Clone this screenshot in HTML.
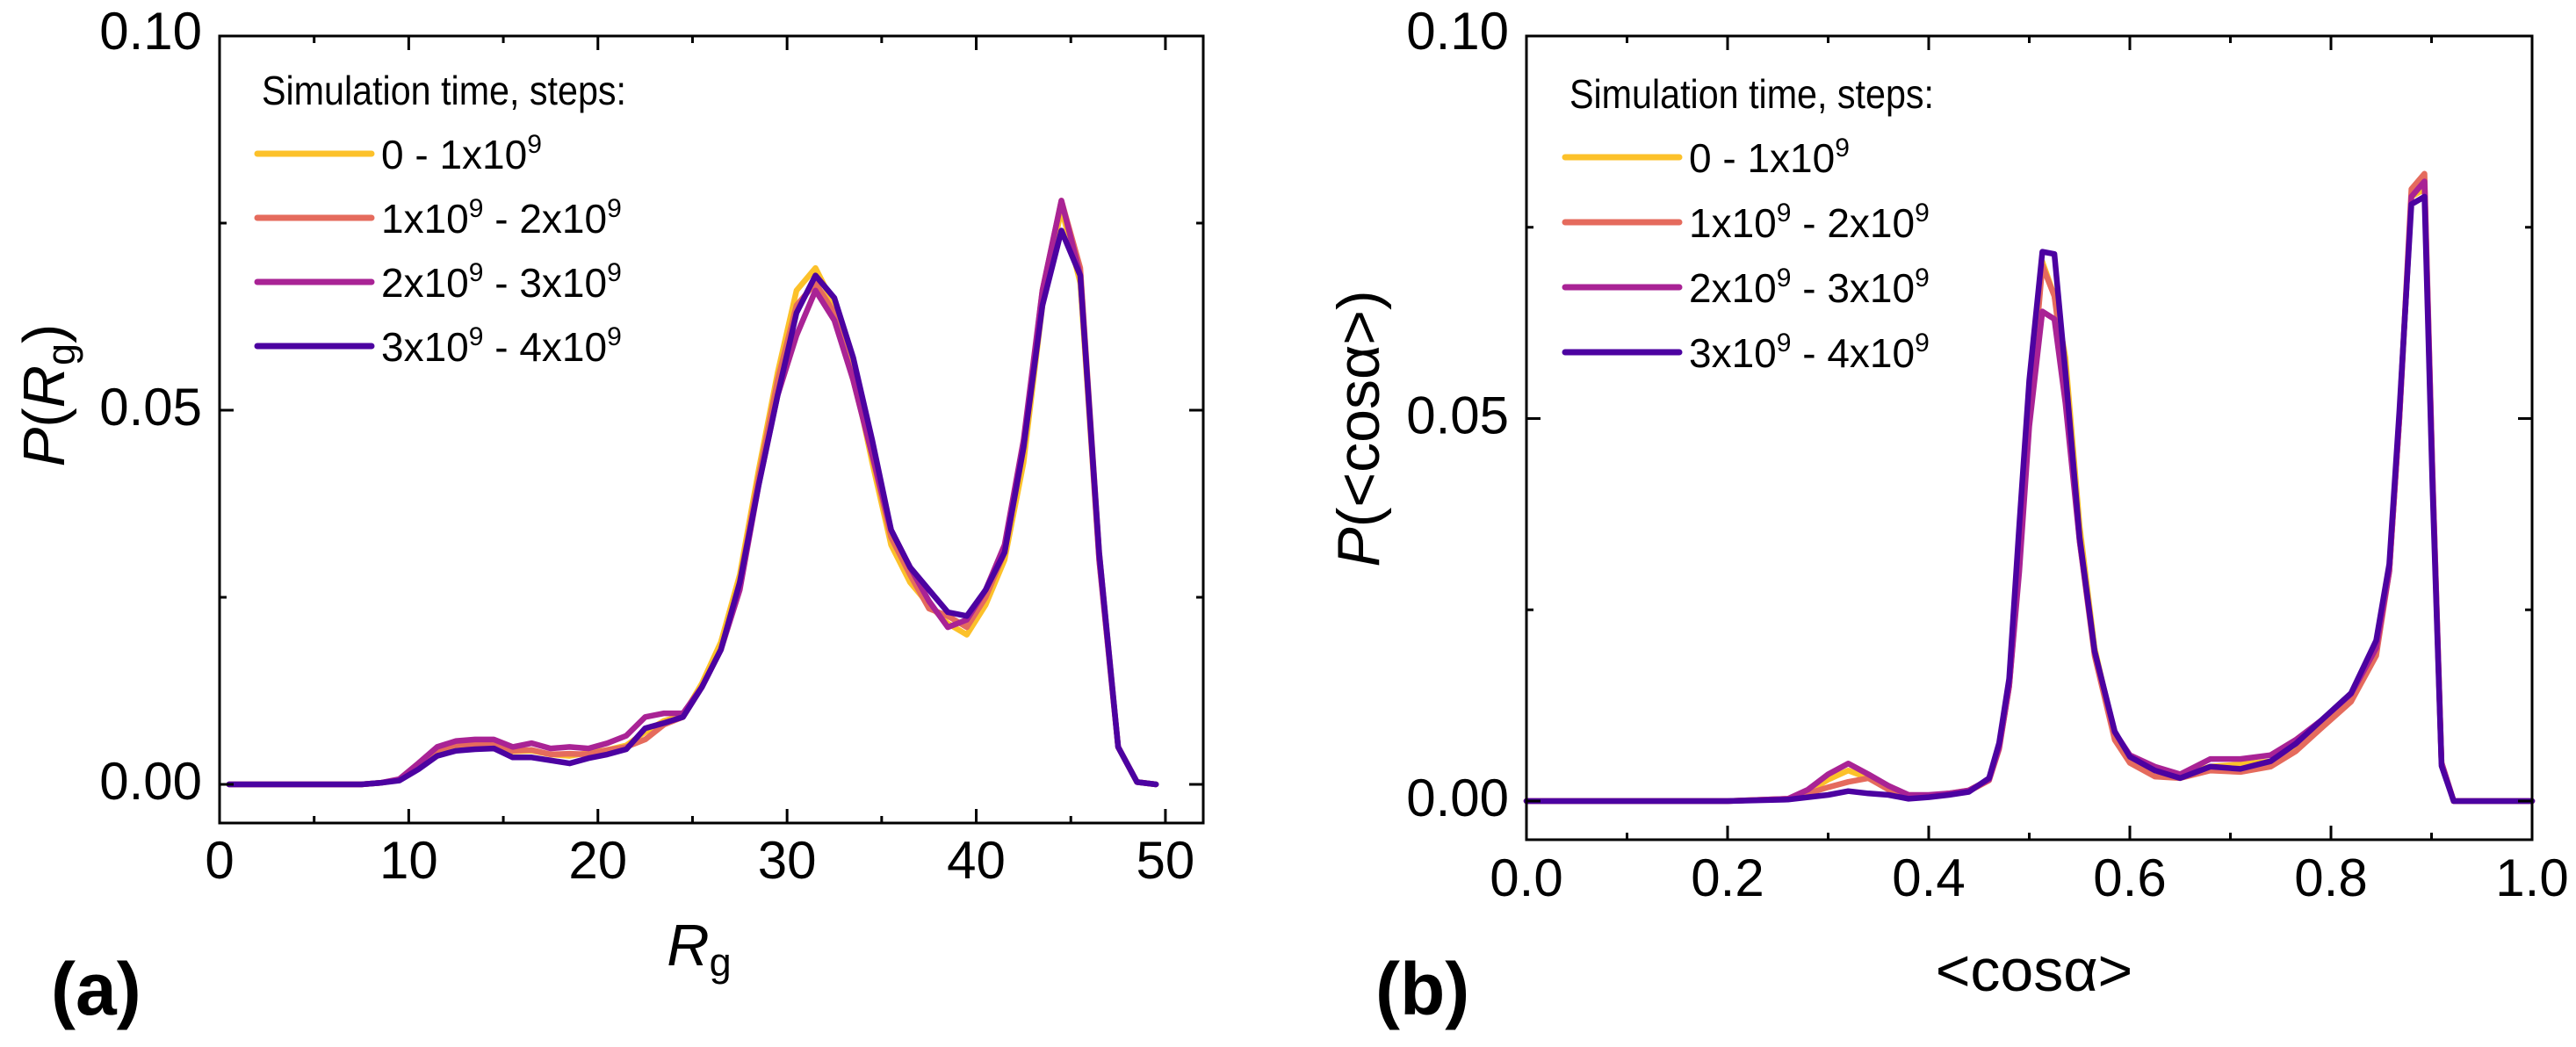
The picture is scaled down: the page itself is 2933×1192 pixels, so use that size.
<!DOCTYPE html>
<html><head><meta charset="utf-8"><style>
html,body{margin:0;padding:0;background:#fff;}
svg{display:block;font-family:"Liberation Sans",sans-serif;}
</style></head><body>
<svg id="fig" width="2933" height="1192" viewBox="0 0 2933 1192" xmlns="http://www.w3.org/2000/svg">
<rect width="2933" height="1192" fill="#fff"/>
<g id="pa"></g>
<g id="pb"></g>
<text x="58" y="1155" font-size="84" font-weight="bold">(a)</text>
<text x="1566" y="1155" font-size="84" font-weight="bold">(b)</text>
<text x="796" y="1099" font-size="67" font-style="italic" text-anchor="middle">R<tspan font-style="normal" font-size="45" dy="12">g</tspan></text>
<text transform="translate(73,450) rotate(-90)" font-size="67" text-anchor="middle"><tspan font-style="italic">P</tspan>(<tspan font-style="italic">R</tspan><tspan font-size="45" dy="12">g</tspan><tspan dy="-12">)</tspan></text>
<text x="2316" y="1128" font-size="68" text-anchor="middle">&lt;cosα&gt;</text>
<text transform="translate(1570,488) rotate(-90)" font-size="68" text-anchor="middle"><tspan font-style="italic">P</tspan>(&lt;cosα&gt;)</text>
</svg>
<script>
// ---------- Panel (a) data ----------
const aX = [0.5,1.5,2.5,3.5,4.5,5.5,6.5,7.5,8.5,9.5,10.5,11.5,12.5,13.5,14.5,15.5,16.5,17.5,18.5,19.5,20.5,21.5,22.5,23.5,24.5,25.5,26.5,27.5,28.5,29.5,30.5,31.5,32.5,33.5,34.5,35.5,36.5,37.5,38.5,39.5,40.5,41.5,42.5,43.5,44.5,45.5,46.5,47.5,48.5,49.5];
const aS1 = [0,0,0,0,0,0,0,0,0.0002,0.0006,0.0025,0.0045,0.0052,0.0053,0.0054,0.0044,0.0045,0.0040,0.0038,0.0042,0.0046,0.0052,0.0070,0.0085,0.0092,0.0135,0.019,0.028,0.042,0.055,0.066,0.069,0.064,0.055,0.043,0.032,0.027,0.024,0.0215,0.020,0.024,0.030,0.043,0.064,0.077,0.067,0.030,0.005,0.0003,0];
const aS2 = [0,0,0,0,0,0,0,0,0.0002,0.0006,0.0025,0.0046,0.0053,0.0054,0.0055,0.0045,0.0046,0.0040,0.0041,0.0040,0.0046,0.0050,0.0060,0.0080,0.0090,0.013,0.018,0.027,0.041,0.054,0.064,0.067,0.063,0.054,0.044,0.033,0.028,0.0235,0.0225,0.021,0.025,0.031,0.045,0.066,0.078,0.069,0.031,0.005,0.0003,0];
const aS3 = [0,0,0,0,0,0,0,0,0.0002,0.0007,0.0028,0.0050,0.0058,0.0060,0.0060,0.0050,0.0055,0.0048,0.0050,0.0048,0.0055,0.0065,0.0090,0.0095,0.0095,0.013,0.018,0.026,0.040,0.052,0.060,0.066,0.062,0.054,0.044,0.034,0.029,0.0245,0.021,0.022,0.026,0.032,0.046,0.066,0.078,0.068,0.030,0.005,0.0003,0];
const aS4 = [0,0,0,0,0,0,0,0,0.0002,0.0005,0.0020,0.0038,0.0045,0.0047,0.0048,0.0036,0.0036,0.0032,0.0028,0.0035,0.0040,0.0047,0.0075,0.0082,0.0090,0.013,0.018,0.027,0.040,0.052,0.063,0.068,0.065,0.057,0.046,0.034,0.029,0.026,0.023,0.0225,0.026,0.031,0.045,0.064,0.074,0.068,0.031,0.005,0.0003,0];
const aXTicks = [0,10,20,30,40,50];
const aXMinor = [5,15,25,35,45];
const aYTicks = [0,0.05,0.10];
const aYMinor = [0.025,0.075];
const aXLabels = ["0","10","20","30","40","50"];
const aYLabels = ["0.00","0.05","0.10"];
// ---------- Panel (b) data ----------
const bX = [0,0.1,0.2,0.26,0.28,0.30,0.32,0.34,0.36,0.38,0.40,0.42,0.44,0.46,0.47,0.48,0.49,0.50,0.513,0.525,0.536,0.55,0.565,0.585,0.60,0.625,0.65,0.68,0.71,0.74,0.765,0.79,0.82,0.845,0.858,0.868,0.88,0.893,0.901,0.91,0.922,0.95,1.0];
const bS1 = [0,0,0,0.0003,0.0012,0.0028,0.0040,0.0030,0.0018,0.0008,0.0007,0.0010,0.0014,0.0028,0.007,0.015,0.031,0.050,0.0705,0.066,0.058,0.036,0.020,0.0085,0.0055,0.004,0.0035,0.0045,0.0048,0.0052,0.0070,0.0100,0.0135,0.020,0.030,0.050,0.079,0.080,0.042,0.005,0,0,0];
const bS2 = [0,0,0,0.0003,0.0010,0.0018,0.0025,0.0030,0.0015,0.0006,0.0007,0.0010,0.0013,0.0027,0.0068,0.015,0.031,0.050,0.070,0.066,0.055,0.034,0.019,0.0080,0.0050,0.0032,0.0030,0.0040,0.0038,0.0045,0.0065,0.0095,0.0130,0.019,0.030,0.050,0.080,0.082,0.043,0.005,0,0,0];
const bS3 = [0,0,0,0.0003,0.0015,0.0035,0.0049,0.0035,0.0020,0.0008,0.0008,0.0010,0.0014,0.0028,0.007,0.015,0.030,0.049,0.064,0.063,0.052,0.034,0.0195,0.009,0.006,0.0045,0.0035,0.0055,0.0055,0.006,0.008,0.0105,0.014,0.020,0.030,0.050,0.079,0.081,0.043,0.005,0,0,0];
const bS4 = [0,0,0,0.0002,0.0005,0.0008,0.0013,0.0010,0.0008,0.0003,0.0005,0.0008,0.0012,0.0030,0.0076,0.016,0.036,0.055,0.0718,0.0715,0.056,0.0345,0.0196,0.0091,0.0058,0.0040,0.0030,0.0045,0.0042,0.0052,0.0075,0.0105,0.0141,0.021,0.031,0.051,0.078,0.079,0.041,0.0046,0,0,0];
const bXTicks = [0,0.2,0.4,0.6,0.8,1.0];
const bXMinor = [0.1,0.3,0.5,0.7,0.9];
const bYTicks = [0,0.05,0.10];
const bYMinor = [0.025,0.075];
const bXLabels = ["0.0","0.2","0.4","0.6","0.8","1.0"];
const bYLabels = ["0.00","0.05","0.10"];
// ---------- shared ----------
const seriesColors = ["#FCC12A","#E56B5D","#A92395","#4C02A1"];
const legendNames = [["0 - 1x10","9","",""],["1x10","9"," - 2x10","9"],["2x10","9"," - 3x10","9"],["3x10","9"," - 4x10","9"]];

const NS = "http://www.w3.org/2000/svg";
function mk(tag, attrs, parent){
  const e = document.createElementNS(NS, tag);
  for (const k in attrs) e.setAttribute(k, attrs[k]);
  parent.appendChild(e);
  return e;
}

function drawPanel(g, cfg){
  const sx = v => cfg.L + (v - cfg.xmin) / (cfg.xmax - cfg.xmin) * (cfg.R - cfg.L);
  const sy = v => cfg.Y0 - v * cfg.ky;
  const T = cfg.T, B = cfg.B, L = cfg.L, R = cfg.R;
  // series
  cfg.series.forEach((s, i) => {
    const d = cfg.x.map((xv, j) => (j ? "L" : "M") + sx(xv).toFixed(1) + " " + sy(s[j]).toFixed(1)).join(" ");
    const p = mk("path", {d: d, fill: "none", stroke: seriesColors[i], "stroke-width": 6.5, "stroke-linejoin": "round", "stroke-linecap": "round"}, g);
    
    
  });
  // frame
  const fr = mk("rect", {x: L, y: T, width: R - L, height: B - T, fill: "none", stroke: "#000", "stroke-width": 3}, g);
  
  
  // x ticks
  cfg.xt.forEach((v, i) => {
    const X = sx(v);
    const t = mk("path", {d: `M${X} ${B}V${B - 16}M${X} ${T}V${T + 16}`, stroke: "#000", "stroke-width": 3}, g);
    
    
    const lb = mk("text", {x: X, y: cfg.xLabelY, "font-size": 60, "text-anchor": "middle"}, g);
    lb.textContent = cfg.xl[i];
    
    
  });
  cfg.xm.forEach(v => {
    const X = sx(v);
    const t = mk("path", {d: `M${X} ${B}V${B - 8}M${X} ${T}V${T + 8}`, stroke: "#000", "stroke-width": 3}, g);
    
    
  });
  cfg.yt.forEach((v, i) => {
    const Y = sy(v);
    const t = mk("path", {d: `M${L} ${Y}H${L + 16}M${R} ${Y}H${R - 16}`, stroke: "#000", "stroke-width": 3}, g);
    
    
    const lb = mk("text", {x: L - 20, y: Y + 17 + (i === cfg.yt.length - 1 ? -2 : 0), "font-size": 60, "text-anchor": "end"}, g);
    lb.textContent = cfg.yl[i];
    
    
  });
  cfg.ym.forEach(v => {
    const Y = sy(v);
    const t = mk("path", {d: `M${L} ${Y}H${L + 8}M${R} ${Y}H${R - 8}`, stroke: "#000", "stroke-width": 3}, g);
    
    
  });
  // legend
  const lg = mk("g", {}, g);
  
  
  const ttl = mk("text", {x: cfg.lgX + 5, y: cfg.lgY - 56, "font-size": 46, textLength: 415, lengthAdjust: "spacingAndGlyphs"}, lg);
  ttl.textContent = "Simulation time, steps:";
  
  
  legendNames.forEach((nm, i) => {
    const Y = cfg.lgY + i * cfg.lgDy;
    const ln = mk("line", {x1: cfg.lgX, x2: cfg.lgX + 130, y1: Y, y2: Y, stroke: seriesColors[i], "stroke-width": 7, "stroke-linecap": "round"}, lg);
    
    
    const tx = mk("text", {x: cfg.lgX + 141, y: Y + 17, "font-size": 46}, lg);
    
    
    const a = mk("tspan", {}, tx); a.textContent = nm[0];
    const b = mk("tspan", {"font-size": 30, dy: -18}, tx); b.textContent = nm[1];
    if (nm[2]) {
      const c = mk("tspan", {dy: 18}, tx); c.textContent = nm[2];
      const d2 = mk("tspan", {"font-size": 30, dy: -18}, tx); d2.textContent = nm[3];
    }
  });
}

drawPanel(document.getElementById("pa"), {
  id: "panel-a", L: 250, R: 1370, T: 41, B: 937, Y0: 893, ky: 8520, xmin: 0, xmax: 52,
  x: aX, series: [aS1, aS2, aS3, aS4],
  xt: aXTicks, xm: aXMinor, yt: aYTicks, ym: aYMinor, xl: aXLabels, yl: aYLabels,
  xLabelY: 1000, lgX: 293, lgY: 175, lgDy: 73
});
drawPanel(document.getElementById("pb"), {
  id: "panel-b", L: 1738, R: 2883, T: 41, B: 956, Y0: 912, ky: 8710, xmin: 0, xmax: 1,
  x: bX, series: [bS1, bS2, bS3, bS4],
  xt: bXTicks, xm: bXMinor, yt: bYTicks, ym: bYMinor, xl: bXLabels, yl: bYLabels,
  xLabelY: 1020, lgX: 1782, lgY: 179, lgDy: 74
});
</script>
</body></html>
